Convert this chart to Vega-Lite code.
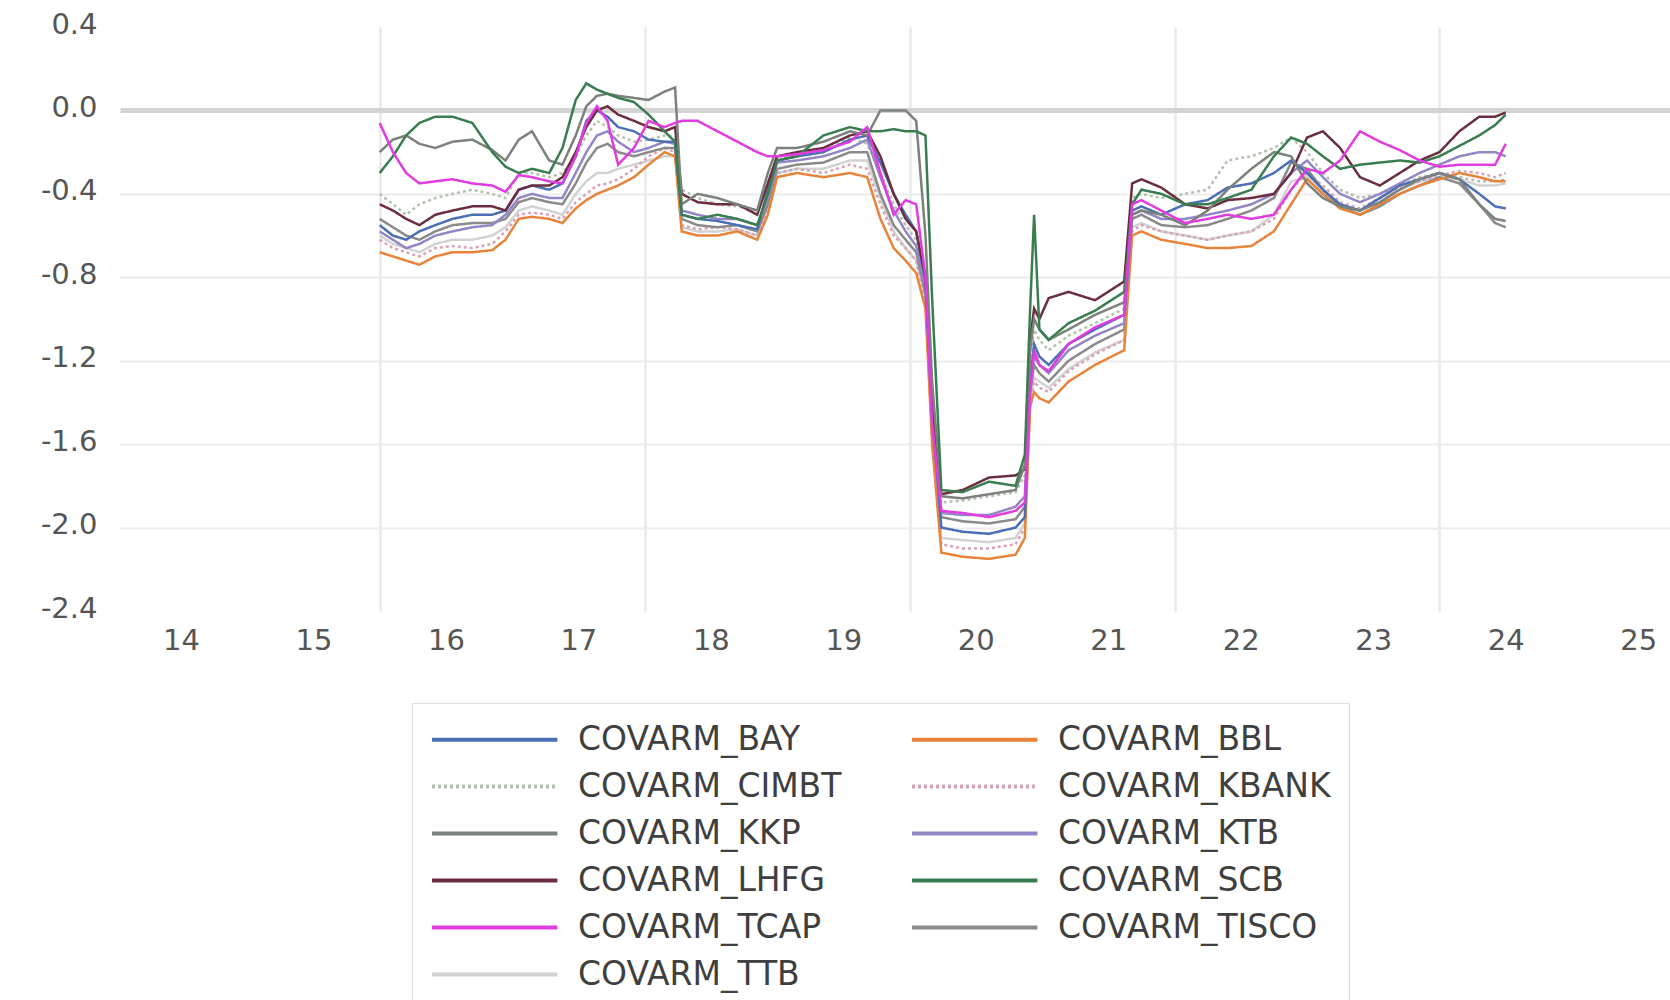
{
"$schema": "https://vega.github.io/schema/vega-lite/v6.json",
"width": 1550, "height": 584,
"autosize": {"type": "none"},
"padding": {"left": 120, "top": 27, "right": 0, "bottom": 389},
"background": "white",
"data": {"values": [
{"s":"TTB","x":2016,"y":-0.60},{"s":"TTB","x":2016.1,"y":-0.64},{"s":"TTB","x":2016.2,"y":-0.66},{"s":"TTB","x":2016.3,"y":-0.68},{"s":"TTB","x":2016.42,"y":-0.64},{"s":"TTB","x":2016.55,"y":-0.62},{"s":"TTB","x":2016.7,"y":-0.62},{"s":"TTB","x":2016.85,"y":-0.60},{"s":"TTB","x":2016.95,"y":-0.56},{"s":"TTB","x":2017.05,"y":-0.48},
{"s":"TTB","x":2017.15,"y":-0.46},{"s":"TTB","x":2017.28,"y":-0.48},{"s":"TTB","x":2017.38,"y":-0.50},{"s":"TTB","x":2017.48,"y":-0.40},{"s":"TTB","x":2017.56,"y":-0.34},{"s":"TTB","x":2017.64,"y":-0.30},{"s":"TTB","x":2017.72,"y":-0.30},{"s":"TTB","x":2017.8,"y":-0.28},{"s":"TTB","x":2017.92,"y":-0.26},{"s":"TTB","x":2018.03,"y":-0.24},
{"s":"TTB","x":2018.15,"y":-0.22},{"s":"TTB","x":2018.23,"y":-0.22},{"s":"TTB","x":2018.28,"y":-0.56},{"s":"TTB","x":2018.4,"y":-0.58},{"s":"TTB","x":2018.55,"y":-0.58},{"s":"TTB","x":2018.7,"y":-0.57},{"s":"TTB","x":2018.85,"y":-0.60},{"s":"TTB","x":2018.93,"y":-0.46},{"s":"TTB","x":2019,"y":-0.30},{"s":"TTB","x":2019.15,"y":-0.28},
{"s":"TTB","x":2019.35,"y":-0.28},{"s":"TTB","x":2019.55,"y":-0.24},{"s":"TTB","x":2019.68,"y":-0.24},{"s":"TTB","x":2019.78,"y":-0.42},{"s":"TTB","x":2019.88,"y":-0.58},{"s":"TTB","x":2019.97,"y":-0.66},{"s":"TTB","x":2020.05,"y":-0.72},{"s":"TTB","x":2020.12,"y":-0.90},{"s":"TTB","x":2020.17,"y":-1.55},{"s":"TTB","x":2020.24,"y":-2.05},
{"s":"TTB","x":2020.4,"y":-2.06},{"s":"TTB","x":2020.6,"y":-2.07},{"s":"TTB","x":2020.8,"y":-2.05},{"s":"TTB","x":2020.87,"y":-1.98},{"s":"TTB","x":2020.91,"y":-1.40},{"s":"TTB","x":2020.94,"y":-1.28},{"s":"TTB","x":2020.98,"y":-1.30},{"s":"TTB","x":2021.05,"y":-1.33},{"s":"TTB","x":2021.2,"y":-1.24},{"s":"TTB","x":2021.4,"y":-1.16},
{"s":"TTB","x":2021.62,"y":-1.10},{"s":"TTB","x":2021.68,"y":-0.56},{"s":"TTB","x":2021.75,"y":-0.54},{"s":"TTB","x":2021.9,"y":-0.58},{"s":"TTB","x":2022.08,"y":-0.60},{"s":"TTB","x":2022.25,"y":-0.62},{"s":"TTB","x":2022.4,"y":-0.60},{"s":"TTB","x":2022.58,"y":-0.58},{"s":"TTB","x":2022.75,"y":-0.50},{"s":"TTB","x":2022.88,"y":-0.34},
{"s":"TTB","x":2023,"y":-0.32},{"s":"TTB","x":2023.12,"y":-0.40},{"s":"TTB","x":2023.25,"y":-0.47},{"s":"TTB","x":2023.4,"y":-0.48},{"s":"TTB","x":2023.55,"y":-0.42},{"s":"TTB","x":2023.7,"y":-0.38},{"s":"TTB","x":2023.85,"y":-0.34},{"s":"TTB","x":2024,"y":-0.32},{"s":"TTB","x":2024.15,"y":-0.33},{"s":"TTB","x":2024.3,"y":-0.36},
{"s":"TTB","x":2024.42,"y":-0.36},{"s":"TTB","x":2024.5,"y":-0.35},

{"s":"CIMBT","x":2016,"y":-0.40},{"s":"CIMBT","x":2016.1,"y":-0.45},{"s":"CIMBT","x":2016.2,"y":-0.50},{"s":"CIMBT","x":2016.3,"y":-0.45},{"s":"CIMBT","x":2016.42,"y":-0.42},{"s":"CIMBT","x":2016.55,"y":-0.40},{"s":"CIMBT","x":2016.7,"y":-0.38},{"s":"CIMBT","x":2016.85,"y":-0.40},{"s":"CIMBT","x":2016.95,"y":-0.42},{"s":"CIMBT","x":2017.05,"y":-0.30},
{"s":"CIMBT","x":2017.15,"y":-0.30},{"s":"CIMBT","x":2017.28,"y":-0.32},{"s":"CIMBT","x":2017.38,"y":-0.30},{"s":"CIMBT","x":2017.48,"y":-0.22},{"s":"CIMBT","x":2017.56,"y":-0.12},{"s":"CIMBT","x":2017.64,"y":-0.05},{"s":"CIMBT","x":2017.72,"y":-0.08},{"s":"CIMBT","x":2017.8,"y":-0.12},{"s":"CIMBT","x":2017.92,"y":-0.15},{"s":"CIMBT","x":2018.03,"y":-0.14},
{"s":"CIMBT","x":2018.15,"y":-0.12},{"s":"CIMBT","x":2018.23,"y":-0.13},{"s":"CIMBT","x":2018.28,"y":-0.38},{"s":"CIMBT","x":2018.4,"y":-0.42},{"s":"CIMBT","x":2018.55,"y":-0.45},{"s":"CIMBT","x":2018.7,"y":-0.46},{"s":"CIMBT","x":2018.85,"y":-0.48},{"s":"CIMBT","x":2018.93,"y":-0.35},{"s":"CIMBT","x":2019,"y":-0.22},{"s":"CIMBT","x":2019.15,"y":-0.22},
{"s":"CIMBT","x":2019.35,"y":-0.20},{"s":"CIMBT","x":2019.55,"y":-0.13},{"s":"CIMBT","x":2019.68,"y":-0.16},{"s":"CIMBT","x":2019.78,"y":-0.30},{"s":"CIMBT","x":2019.88,"y":-0.45},{"s":"CIMBT","x":2019.97,"y":-0.55},{"s":"CIMBT","x":2020.05,"y":-0.62},{"s":"CIMBT","x":2020.12,"y":-0.85},{"s":"CIMBT","x":2020.17,"y":-1.40},{"s":"CIMBT","x":2020.24,"y":-1.88},
{"s":"CIMBT","x":2020.4,"y":-1.87},{"s":"CIMBT","x":2020.6,"y":-1.85},{"s":"CIMBT","x":2020.8,"y":-1.83},{"s":"CIMBT","x":2020.87,"y":-1.75},{"s":"CIMBT","x":2020.91,"y":-1.20},{"s":"CIMBT","x":2020.94,"y":-1.05},{"s":"CIMBT","x":2020.98,"y":-1.10},{"s":"CIMBT","x":2021.05,"y":-1.15},{"s":"CIMBT","x":2021.2,"y":-1.08},{"s":"CIMBT","x":2021.4,"y":-1.02},
{"s":"CIMBT","x":2021.62,"y":-0.95},{"s":"CIMBT","x":2021.68,"y":-0.42},{"s":"CIMBT","x":2021.75,"y":-0.40},{"s":"CIMBT","x":2021.9,"y":-0.42},{"s":"CIMBT","x":2022.08,"y":-0.40},{"s":"CIMBT","x":2022.25,"y":-0.38},{"s":"CIMBT","x":2022.4,"y":-0.24},{"s":"CIMBT","x":2022.58,"y":-0.22},{"s":"CIMBT","x":2022.75,"y":-0.18},{"s":"CIMBT","x":2022.88,"y":-0.13},
{"s":"CIMBT","x":2023,"y":-0.20},{"s":"CIMBT","x":2023.12,"y":-0.30},{"s":"CIMBT","x":2023.25,"y":-0.38},{"s":"CIMBT","x":2023.4,"y":-0.42},{"s":"CIMBT","x":2023.55,"y":-0.40},{"s":"CIMBT","x":2023.7,"y":-0.36},{"s":"CIMBT","x":2023.85,"y":-0.32},{"s":"CIMBT","x":2024,"y":-0.30},{"s":"CIMBT","x":2024.15,"y":-0.32},{"s":"CIMBT","x":2024.3,"y":-0.34},
{"s":"CIMBT","x":2024.42,"y":-0.34},{"s":"CIMBT","x":2024.5,"y":-0.33},

{"s":"KBANK","x":2016,"y":-0.62},{"s":"KBANK","x":2016.1,"y":-0.66},{"s":"KBANK","x":2016.2,"y":-0.68},{"s":"KBANK","x":2016.3,"y":-0.70},{"s":"KBANK","x":2016.42,"y":-0.66},{"s":"KBANK","x":2016.55,"y":-0.65},{"s":"KBANK","x":2016.7,"y":-0.66},{"s":"KBANK","x":2016.85,"y":-0.64},{"s":"KBANK","x":2016.95,"y":-0.58},{"s":"KBANK","x":2017.05,"y":-0.50},
{"s":"KBANK","x":2017.15,"y":-0.49},{"s":"KBANK","x":2017.28,"y":-0.50},{"s":"KBANK","x":2017.38,"y":-0.52},{"s":"KBANK","x":2017.48,"y":-0.44},{"s":"KBANK","x":2017.56,"y":-0.40},{"s":"KBANK","x":2017.64,"y":-0.36},{"s":"KBANK","x":2017.72,"y":-0.35},{"s":"KBANK","x":2017.8,"y":-0.33},{"s":"KBANK","x":2017.92,"y":-0.28},{"s":"KBANK","x":2018.03,"y":-0.22},
{"s":"KBANK","x":2018.15,"y":-0.18},{"s":"KBANK","x":2018.23,"y":-0.20},{"s":"KBANK","x":2018.28,"y":-0.55},{"s":"KBANK","x":2018.4,"y":-0.57},{"s":"KBANK","x":2018.55,"y":-0.56},{"s":"KBANK","x":2018.7,"y":-0.57},{"s":"KBANK","x":2018.85,"y":-0.60},{"s":"KBANK","x":2018.93,"y":-0.48},{"s":"KBANK","x":2019,"y":-0.30},{"s":"KBANK","x":2019.15,"y":-0.28},
{"s":"KBANK","x":2019.35,"y":-0.30},{"s":"KBANK","x":2019.55,"y":-0.26},{"s":"KBANK","x":2019.68,"y":-0.28},{"s":"KBANK","x":2019.78,"y":-0.45},{"s":"KBANK","x":2019.88,"y":-0.60},{"s":"KBANK","x":2019.97,"y":-0.66},{"s":"KBANK","x":2020.05,"y":-0.72},{"s":"KBANK","x":2020.12,"y":-0.92},{"s":"KBANK","x":2020.17,"y":-1.55},{"s":"KBANK","x":2020.24,"y":-2.08},
{"s":"KBANK","x":2020.4,"y":-2.10},{"s":"KBANK","x":2020.6,"y":-2.10},{"s":"KBANK","x":2020.8,"y":-2.08},{"s":"KBANK","x":2020.87,"y":-2.00},{"s":"KBANK","x":2020.91,"y":-1.38},{"s":"KBANK","x":2020.94,"y":-1.30},{"s":"KBANK","x":2020.98,"y":-1.33},{"s":"KBANK","x":2021.05,"y":-1.35},{"s":"KBANK","x":2021.2,"y":-1.25},{"s":"KBANK","x":2021.4,"y":-1.17},
{"s":"KBANK","x":2021.62,"y":-1.10},{"s":"KBANK","x":2021.68,"y":-0.58},{"s":"KBANK","x":2021.75,"y":-0.55},{"s":"KBANK","x":2021.9,"y":-0.58},{"s":"KBANK","x":2022.08,"y":-0.60},{"s":"KBANK","x":2022.25,"y":-0.62},{"s":"KBANK","x":2022.4,"y":-0.60},{"s":"KBANK","x":2022.58,"y":-0.58},{"s":"KBANK","x":2022.75,"y":-0.52},{"s":"KBANK","x":2022.88,"y":-0.38},
{"s":"KBANK","x":2023,"y":-0.30},{"s":"KBANK","x":2023.12,"y":-0.36},{"s":"KBANK","x":2023.25,"y":-0.44},{"s":"KBANK","x":2023.4,"y":-0.47},{"s":"KBANK","x":2023.55,"y":-0.42},{"s":"KBANK","x":2023.7,"y":-0.37},{"s":"KBANK","x":2023.85,"y":-0.34},{"s":"KBANK","x":2024,"y":-0.31},{"s":"KBANK","x":2024.15,"y":-0.29},{"s":"KBANK","x":2024.3,"y":-0.30},
{"s":"KBANK","x":2024.42,"y":-0.32},{"s":"KBANK","x":2024.5,"y":-0.30},

{"s":"TISCO","x":2016,"y":-0.52},{"s":"TISCO","x":2016.1,"y":-0.56},{"s":"TISCO","x":2016.2,"y":-0.60},{"s":"TISCO","x":2016.3,"y":-0.62},{"s":"TISCO","x":2016.42,"y":-0.58},{"s":"TISCO","x":2016.55,"y":-0.55},{"s":"TISCO","x":2016.7,"y":-0.54},{"s":"TISCO","x":2016.85,"y":-0.54},{"s":"TISCO","x":2016.95,"y":-0.52},{"s":"TISCO","x":2017.05,"y":-0.44},
{"s":"TISCO","x":2017.15,"y":-0.42},{"s":"TISCO","x":2017.28,"y":-0.44},{"s":"TISCO","x":2017.38,"y":-0.45},{"s":"TISCO","x":2017.48,"y":-0.35},{"s":"TISCO","x":2017.56,"y":-0.25},{"s":"TISCO","x":2017.64,"y":-0.18},{"s":"TISCO","x":2017.72,"y":-0.16},{"s":"TISCO","x":2017.8,"y":-0.20},{"s":"TISCO","x":2017.92,"y":-0.22},{"s":"TISCO","x":2018.03,"y":-0.20},
{"s":"TISCO","x":2018.15,"y":-0.18},{"s":"TISCO","x":2018.23,"y":-0.18},{"s":"TISCO","x":2018.28,"y":-0.52},{"s":"TISCO","x":2018.4,"y":-0.55},{"s":"TISCO","x":2018.55,"y":-0.56},{"s":"TISCO","x":2018.7,"y":-0.55},{"s":"TISCO","x":2018.85,"y":-0.58},{"s":"TISCO","x":2018.93,"y":-0.45},{"s":"TISCO","x":2019,"y":-0.28},{"s":"TISCO","x":2019.15,"y":-0.26},
{"s":"TISCO","x":2019.35,"y":-0.25},{"s":"TISCO","x":2019.55,"y":-0.20},{"s":"TISCO","x":2019.68,"y":-0.20},{"s":"TISCO","x":2019.78,"y":-0.40},{"s":"TISCO","x":2019.88,"y":-0.55},{"s":"TISCO","x":2019.97,"y":-0.62},{"s":"TISCO","x":2020.05,"y":-0.68},{"s":"TISCO","x":2020.12,"y":-0.88},{"s":"TISCO","x":2020.17,"y":-1.48},{"s":"TISCO","x":2020.24,"y":-1.95},
{"s":"TISCO","x":2020.4,"y":-1.97},{"s":"TISCO","x":2020.6,"y":-1.98},{"s":"TISCO","x":2020.8,"y":-1.96},{"s":"TISCO","x":2020.87,"y":-1.90},{"s":"TISCO","x":2020.91,"y":-1.35},{"s":"TISCO","x":2020.94,"y":-1.22},{"s":"TISCO","x":2020.98,"y":-1.26},{"s":"TISCO","x":2021.05,"y":-1.30},{"s":"TISCO","x":2021.2,"y":-1.20},{"s":"TISCO","x":2021.4,"y":-1.12},
{"s":"TISCO","x":2021.62,"y":-1.05},{"s":"TISCO","x":2021.68,"y":-0.52},{"s":"TISCO","x":2021.75,"y":-0.50},{"s":"TISCO","x":2021.9,"y":-0.55},{"s":"TISCO","x":2022.08,"y":-0.56},{"s":"TISCO","x":2022.25,"y":-0.55},{"s":"TISCO","x":2022.4,"y":-0.52},{"s":"TISCO","x":2022.58,"y":-0.48},{"s":"TISCO","x":2022.75,"y":-0.42},{"s":"TISCO","x":2022.88,"y":-0.25},
{"s":"TISCO","x":2023,"y":-0.28},{"s":"TISCO","x":2023.12,"y":-0.38},{"s":"TISCO","x":2023.25,"y":-0.46},{"s":"TISCO","x":2023.4,"y":-0.50},{"s":"TISCO","x":2023.55,"y":-0.46},{"s":"TISCO","x":2023.7,"y":-0.40},{"s":"TISCO","x":2023.85,"y":-0.36},{"s":"TISCO","x":2024,"y":-0.32},{"s":"TISCO","x":2024.15,"y":-0.35},{"s":"TISCO","x":2024.3,"y":-0.45},
{"s":"TISCO","x":2024.42,"y":-0.54},{"s":"TISCO","x":2024.5,"y":-0.56},

{"s":"BBL","x":2016,"y":-0.68},{"s":"BBL","x":2016.1,"y":-0.70},{"s":"BBL","x":2016.2,"y":-0.72},{"s":"BBL","x":2016.3,"y":-0.74},{"s":"BBL","x":2016.42,"y":-0.70},{"s":"BBL","x":2016.55,"y":-0.68},{"s":"BBL","x":2016.7,"y":-0.68},{"s":"BBL","x":2016.85,"y":-0.67},{"s":"BBL","x":2016.95,"y":-0.62},{"s":"BBL","x":2017.05,"y":-0.52},
{"s":"BBL","x":2017.15,"y":-0.51},{"s":"BBL","x":2017.28,"y":-0.52},{"s":"BBL","x":2017.38,"y":-0.54},{"s":"BBL","x":2017.48,"y":-0.47},{"s":"BBL","x":2017.56,"y":-0.43},{"s":"BBL","x":2017.64,"y":-0.40},{"s":"BBL","x":2017.72,"y":-0.38},{"s":"BBL","x":2017.8,"y":-0.36},{"s":"BBL","x":2017.92,"y":-0.32},{"s":"BBL","x":2018.03,"y":-0.26},
{"s":"BBL","x":2018.15,"y":-0.20},{"s":"BBL","x":2018.23,"y":-0.22},{"s":"BBL","x":2018.28,"y":-0.58},{"s":"BBL","x":2018.4,"y":-0.60},{"s":"BBL","x":2018.55,"y":-0.60},{"s":"BBL","x":2018.7,"y":-0.58},{"s":"BBL","x":2018.85,"y":-0.62},{"s":"BBL","x":2018.93,"y":-0.50},{"s":"BBL","x":2019,"y":-0.32},{"s":"BBL","x":2019.15,"y":-0.30},
{"s":"BBL","x":2019.35,"y":-0.32},{"s":"BBL","x":2019.55,"y":-0.30},{"s":"BBL","x":2019.68,"y":-0.32},{"s":"BBL","x":2019.78,"y":-0.52},{"s":"BBL","x":2019.88,"y":-0.66},{"s":"BBL","x":2019.97,"y":-0.72},{"s":"BBL","x":2020.05,"y":-0.78},{"s":"BBL","x":2020.12,"y":-0.95},{"s":"BBL","x":2020.17,"y":-1.60},{"s":"BBL","x":2020.24,"y":-2.12},
{"s":"BBL","x":2020.4,"y":-2.14},{"s":"BBL","x":2020.6,"y":-2.15},{"s":"BBL","x":2020.8,"y":-2.13},{"s":"BBL","x":2020.87,"y":-2.05},{"s":"BBL","x":2020.91,"y":-1.42},{"s":"BBL","x":2020.94,"y":-1.35},{"s":"BBL","x":2020.98,"y":-1.38},{"s":"BBL","x":2021.05,"y":-1.40},{"s":"BBL","x":2021.2,"y":-1.30},{"s":"BBL","x":2021.4,"y":-1.22},
{"s":"BBL","x":2021.62,"y":-1.15},{"s":"BBL","x":2021.68,"y":-0.60},{"s":"BBL","x":2021.75,"y":-0.58},{"s":"BBL","x":2021.9,"y":-0.62},{"s":"BBL","x":2022.08,"y":-0.64},{"s":"BBL","x":2022.25,"y":-0.66},{"s":"BBL","x":2022.4,"y":-0.66},{"s":"BBL","x":2022.58,"y":-0.65},{"s":"BBL","x":2022.75,"y":-0.58},{"s":"BBL","x":2022.88,"y":-0.45},
{"s":"BBL","x":2023,"y":-0.33},{"s":"BBL","x":2023.12,"y":-0.40},{"s":"BBL","x":2023.25,"y":-0.47},{"s":"BBL","x":2023.4,"y":-0.50},{"s":"BBL","x":2023.55,"y":-0.45},{"s":"BBL","x":2023.7,"y":-0.40},{"s":"BBL","x":2023.85,"y":-0.36},{"s":"BBL","x":2024,"y":-0.33},{"s":"BBL","x":2024.15,"y":-0.30},{"s":"BBL","x":2024.3,"y":-0.32},
{"s":"BBL","x":2024.42,"y":-0.34},{"s":"BBL","x":2024.5,"y":-0.34},

{"s":"KTB","x":2016,"y":-0.58},{"s":"KTB","x":2016.1,"y":-0.62},{"s":"KTB","x":2016.2,"y":-0.66},{"s":"KTB","x":2016.3,"y":-0.64},{"s":"KTB","x":2016.42,"y":-0.60},{"s":"KTB","x":2016.55,"y":-0.58},{"s":"KTB","x":2016.7,"y":-0.56},{"s":"KTB","x":2016.85,"y":-0.55},{"s":"KTB","x":2016.95,"y":-0.50},{"s":"KTB","x":2017.05,"y":-0.42},
{"s":"KTB","x":2017.15,"y":-0.40},{"s":"KTB","x":2017.28,"y":-0.42},{"s":"KTB","x":2017.38,"y":-0.42},{"s":"KTB","x":2017.48,"y":-0.30},{"s":"KTB","x":2017.56,"y":-0.20},{"s":"KTB","x":2017.64,"y":-0.12},{"s":"KTB","x":2017.72,"y":-0.10},{"s":"KTB","x":2017.8,"y":-0.15},{"s":"KTB","x":2017.92,"y":-0.20},{"s":"KTB","x":2018.03,"y":-0.18},
{"s":"KTB","x":2018.15,"y":-0.15},{"s":"KTB","x":2018.23,"y":-0.16},{"s":"KTB","x":2018.28,"y":-0.48},{"s":"KTB","x":2018.4,"y":-0.50},{"s":"KTB","x":2018.55,"y":-0.52},{"s":"KTB","x":2018.7,"y":-0.52},{"s":"KTB","x":2018.85,"y":-0.55},{"s":"KTB","x":2018.93,"y":-0.42},{"s":"KTB","x":2019,"y":-0.25},{"s":"KTB","x":2019.15,"y":-0.24},
{"s":"KTB","x":2019.35,"y":-0.22},{"s":"KTB","x":2019.55,"y":-0.18},{"s":"KTB","x":2019.68,"y":-0.14},{"s":"KTB","x":2019.78,"y":-0.32},{"s":"KTB","x":2019.88,"y":-0.48},{"s":"KTB","x":2019.97,"y":-0.58},{"s":"KTB","x":2020.05,"y":-0.65},{"s":"KTB","x":2020.12,"y":-0.85},{"s":"KTB","x":2020.17,"y":-1.50},{"s":"KTB","x":2020.24,"y":-1.93},
{"s":"KTB","x":2020.4,"y":-1.94},{"s":"KTB","x":2020.6,"y":-1.94},{"s":"KTB","x":2020.8,"y":-1.90},{"s":"KTB","x":2020.87,"y":-1.85},{"s":"KTB","x":2020.91,"y":-1.32},{"s":"KTB","x":2020.94,"y":-1.18},{"s":"KTB","x":2020.98,"y":-1.22},{"s":"KTB","x":2021.05,"y":-1.26},{"s":"KTB","x":2021.2,"y":-1.15},{"s":"KTB","x":2021.4,"y":-1.08},
{"s":"KTB","x":2021.62,"y":-1.02},{"s":"KTB","x":2021.68,"y":-0.50},{"s":"KTB","x":2021.75,"y":-0.48},{"s":"KTB","x":2021.9,"y":-0.52},{"s":"KTB","x":2022.08,"y":-0.52},{"s":"KTB","x":2022.25,"y":-0.50},{"s":"KTB","x":2022.4,"y":-0.48},{"s":"KTB","x":2022.58,"y":-0.45},{"s":"KTB","x":2022.75,"y":-0.40},{"s":"KTB","x":2022.88,"y":-0.30},
{"s":"KTB","x":2023,"y":-0.24},{"s":"KTB","x":2023.12,"y":-0.32},{"s":"KTB","x":2023.25,"y":-0.40},{"s":"KTB","x":2023.4,"y":-0.44},{"s":"KTB","x":2023.55,"y":-0.40},{"s":"KTB","x":2023.7,"y":-0.35},{"s":"KTB","x":2023.85,"y":-0.30},{"s":"KTB","x":2024,"y":-0.26},{"s":"KTB","x":2024.15,"y":-0.22},{"s":"KTB","x":2024.3,"y":-0.20},
{"s":"KTB","x":2024.42,"y":-0.20},{"s":"KTB","x":2024.5,"y":-0.22},

{"s":"BAY","x":2016,"y":-0.55},{"s":"BAY","x":2016.1,"y":-0.60},{"s":"BAY","x":2016.2,"y":-0.62},{"s":"BAY","x":2016.3,"y":-0.58},{"s":"BAY","x":2016.42,"y":-0.55},{"s":"BAY","x":2016.55,"y":-0.52},{"s":"BAY","x":2016.7,"y":-0.50},{"s":"BAY","x":2016.85,"y":-0.50},{"s":"BAY","x":2016.95,"y":-0.48},{"s":"BAY","x":2017.05,"y":-0.38},
{"s":"BAY","x":2017.15,"y":-0.36},{"s":"BAY","x":2017.28,"y":-0.38},{"s":"BAY","x":2017.38,"y":-0.35},{"s":"BAY","x":2017.48,"y":-0.22},{"s":"BAY","x":2017.56,"y":-0.05},{"s":"BAY","x":2017.64,"y":0.00},{"s":"BAY","x":2017.72,"y":-0.03},{"s":"BAY","x":2017.8,"y":-0.08},{"s":"BAY","x":2017.92,"y":-0.10},{"s":"BAY","x":2018.03,"y":-0.14},
{"s":"BAY","x":2018.15,"y":-0.15},{"s":"BAY","x":2018.23,"y":-0.15},{"s":"BAY","x":2018.28,"y":-0.50},{"s":"BAY","x":2018.4,"y":-0.52},{"s":"BAY","x":2018.55,"y":-0.53},{"s":"BAY","x":2018.7,"y":-0.55},{"s":"BAY","x":2018.85,"y":-0.57},{"s":"BAY","x":2018.93,"y":-0.38},{"s":"BAY","x":2019,"y":-0.24},{"s":"BAY","x":2019.15,"y":-0.22},
{"s":"BAY","x":2019.35,"y":-0.20},{"s":"BAY","x":2019.55,"y":-0.14},{"s":"BAY","x":2019.68,"y":-0.12},{"s":"BAY","x":2019.78,"y":-0.25},{"s":"BAY","x":2019.88,"y":-0.40},{"s":"BAY","x":2019.97,"y":-0.50},{"s":"BAY","x":2020.05,"y":-0.58},{"s":"BAY","x":2020.12,"y":-0.82},{"s":"BAY","x":2020.17,"y":-1.45},{"s":"BAY","x":2020.24,"y":-2.00},
{"s":"BAY","x":2020.4,"y":-2.02},{"s":"BAY","x":2020.6,"y":-2.03},{"s":"BAY","x":2020.8,"y":-2.00},{"s":"BAY","x":2020.87,"y":-1.95},{"s":"BAY","x":2020.91,"y":-1.30},{"s":"BAY","x":2020.94,"y":-1.12},{"s":"BAY","x":2020.98,"y":-1.18},{"s":"BAY","x":2021.05,"y":-1.22},{"s":"BAY","x":2021.2,"y":-1.12},{"s":"BAY","x":2021.4,"y":-1.05},
{"s":"BAY","x":2021.62,"y":-0.98},{"s":"BAY","x":2021.68,"y":-0.48},{"s":"BAY","x":2021.75,"y":-0.46},{"s":"BAY","x":2021.9,"y":-0.50},{"s":"BAY","x":2022.08,"y":-0.45},{"s":"BAY","x":2022.25,"y":-0.43},{"s":"BAY","x":2022.4,"y":-0.37},{"s":"BAY","x":2022.58,"y":-0.35},{"s":"BAY","x":2022.75,"y":-0.30},{"s":"BAY","x":2022.88,"y":-0.24},
{"s":"BAY","x":2023,"y":-0.30},{"s":"BAY","x":2023.12,"y":-0.38},{"s":"BAY","x":2023.25,"y":-0.45},{"s":"BAY","x":2023.4,"y":-0.48},{"s":"BAY","x":2023.55,"y":-0.42},{"s":"BAY","x":2023.7,"y":-0.36},{"s":"BAY","x":2023.85,"y":-0.33},{"s":"BAY","x":2024,"y":-0.30},{"s":"BAY","x":2024.15,"y":-0.33},{"s":"BAY","x":2024.3,"y":-0.40},
{"s":"BAY","x":2024.42,"y":-0.46},{"s":"BAY","x":2024.5,"y":-0.47},

{"s":"LHFG","x":2016,"y":-0.45},{"s":"LHFG","x":2016.1,"y":-0.48},{"s":"LHFG","x":2016.2,"y":-0.52},{"s":"LHFG","x":2016.3,"y":-0.55},{"s":"LHFG","x":2016.42,"y":-0.50},{"s":"LHFG","x":2016.55,"y":-0.48},{"s":"LHFG","x":2016.7,"y":-0.46},{"s":"LHFG","x":2016.85,"y":-0.46},{"s":"LHFG","x":2016.95,"y":-0.48},{"s":"LHFG","x":2017.05,"y":-0.38},
{"s":"LHFG","x":2017.15,"y":-0.36},{"s":"LHFG","x":2017.28,"y":-0.36},{"s":"LHFG","x":2017.38,"y":-0.32},{"s":"LHFG","x":2017.48,"y":-0.20},{"s":"LHFG","x":2017.56,"y":-0.08},{"s":"LHFG","x":2017.64,"y":0.00},{"s":"LHFG","x":2017.72,"y":0.02},{"s":"LHFG","x":2017.8,"y":-0.02},{"s":"LHFG","x":2017.92,"y":-0.05},{"s":"LHFG","x":2018.03,"y":-0.08},
{"s":"LHFG","x":2018.15,"y":-0.10},{"s":"LHFG","x":2018.23,"y":-0.08},{"s":"LHFG","x":2018.28,"y":-0.40},{"s":"LHFG","x":2018.4,"y":-0.44},{"s":"LHFG","x":2018.55,"y":-0.45},{"s":"LHFG","x":2018.7,"y":-0.45},{"s":"LHFG","x":2018.85,"y":-0.50},{"s":"LHFG","x":2018.93,"y":-0.35},{"s":"LHFG","x":2019,"y":-0.22},{"s":"LHFG","x":2019.15,"y":-0.20},
{"s":"LHFG","x":2019.35,"y":-0.18},{"s":"LHFG","x":2019.55,"y":-0.12},{"s":"LHFG","x":2019.68,"y":-0.10},{"s":"LHFG","x":2019.78,"y":-0.22},{"s":"LHFG","x":2019.88,"y":-0.40},{"s":"LHFG","x":2019.97,"y":-0.52},{"s":"LHFG","x":2020.05,"y":-0.58},{"s":"LHFG","x":2020.12,"y":-0.80},{"s":"LHFG","x":2020.17,"y":-1.40},{"s":"LHFG","x":2020.24,"y":-1.84},
{"s":"LHFG","x":2020.4,"y":-1.82},{"s":"LHFG","x":2020.6,"y":-1.76},{"s":"LHFG","x":2020.8,"y":-1.75},{"s":"LHFG","x":2020.87,"y":-1.72},{"s":"LHFG","x":2020.91,"y":-1.10},{"s":"LHFG","x":2020.94,"y":-0.95},{"s":"LHFG","x":2020.98,"y":-1.00},{"s":"LHFG","x":2021.05,"y":-0.90},{"s":"LHFG","x":2021.2,"y":-0.87},{"s":"LHFG","x":2021.4,"y":-0.91},
{"s":"LHFG","x":2021.62,"y":-0.82},{"s":"LHFG","x":2021.68,"y":-0.35},{"s":"LHFG","x":2021.75,"y":-0.33},{"s":"LHFG","x":2021.9,"y":-0.37},{"s":"LHFG","x":2022.08,"y":-0.45},{"s":"LHFG","x":2022.25,"y":-0.47},{"s":"LHFG","x":2022.4,"y":-0.43},{"s":"LHFG","x":2022.58,"y":-0.42},{"s":"LHFG","x":2022.75,"y":-0.40},{"s":"LHFG","x":2022.88,"y":-0.30},
{"s":"LHFG","x":2023,"y":-0.13},{"s":"LHFG","x":2023.12,"y":-0.10},{"s":"LHFG","x":2023.25,"y":-0.18},{"s":"LHFG","x":2023.4,"y":-0.32},{"s":"LHFG","x":2023.55,"y":-0.36},{"s":"LHFG","x":2023.7,"y":-0.30},{"s":"LHFG","x":2023.85,"y":-0.24},{"s":"LHFG","x":2024,"y":-0.20},{"s":"LHFG","x":2024.15,"y":-0.10},{"s":"LHFG","x":2024.3,"y":-0.03},
{"s":"LHFG","x":2024.42,"y":-0.03},{"s":"LHFG","x":2024.5,"y":-0.01},

{"s":"KKP","x":2016,"y":-0.20},{"s":"KKP","x":2016.1,"y":-0.14},{"s":"KKP","x":2016.2,"y":-0.12},{"s":"KKP","x":2016.3,"y":-0.16},{"s":"KKP","x":2016.42,"y":-0.18},{"s":"KKP","x":2016.55,"y":-0.15},{"s":"KKP","x":2016.7,"y":-0.14},{"s":"KKP","x":2016.85,"y":-0.19},{"s":"KKP","x":2016.95,"y":-0.24},{"s":"KKP","x":2017.05,"y":-0.14},
{"s":"KKP","x":2017.15,"y":-0.10},{"s":"KKP","x":2017.28,"y":-0.24},{"s":"KKP","x":2017.38,"y":-0.26},{"s":"KKP","x":2017.48,"y":-0.12},{"s":"KKP","x":2017.56,"y":0.02},{"s":"KKP","x":2017.64,"y":0.07},{"s":"KKP","x":2017.72,"y":0.08},{"s":"KKP","x":2017.8,"y":0.07},{"s":"KKP","x":2017.92,"y":0.06},{"s":"KKP","x":2018.03,"y":0.05},
{"s":"KKP","x":2018.15,"y":0.09},{"s":"KKP","x":2018.23,"y":0.11},{"s":"KKP","x":2018.28,"y":-0.45},{"s":"KKP","x":2018.4,"y":-0.40},{"s":"KKP","x":2018.55,"y":-0.42},{"s":"KKP","x":2018.7,"y":-0.45},{"s":"KKP","x":2018.85,"y":-0.48},{"s":"KKP","x":2018.93,"y":-0.30},{"s":"KKP","x":2019,"y":-0.18},{"s":"KKP","x":2019.15,"y":-0.18},
{"s":"KKP","x":2019.35,"y":-0.15},{"s":"KKP","x":2019.55,"y":-0.10},{"s":"KKP","x":2019.68,"y":-0.12},{"s":"KKP","x":2019.78,"y":0.00},{"s":"KKP","x":2019.88,"y":0.00},{"s":"KKP","x":2019.97,"y":0.00},{"s":"KKP","x":2020.05,"y":-0.05},{"s":"KKP","x":2020.12,"y":-0.60},{"s":"KKP","x":2020.17,"y":-1.30},{"s":"KKP","x":2020.24,"y":-1.85},
{"s":"KKP","x":2020.4,"y":-1.86},{"s":"KKP","x":2020.6,"y":-1.84},{"s":"KKP","x":2020.8,"y":-1.82},{"s":"KKP","x":2020.87,"y":-1.70},{"s":"KKP","x":2020.91,"y":-1.15},{"s":"KKP","x":2020.94,"y":-1.00},{"s":"KKP","x":2020.98,"y":-1.05},{"s":"KKP","x":2021.05,"y":-1.10},{"s":"KKP","x":2021.2,"y":-1.05},{"s":"KKP","x":2021.4,"y":-0.98},
{"s":"KKP","x":2021.62,"y":-0.92},{"s":"KKP","x":2021.68,"y":-0.50},{"s":"KKP","x":2021.75,"y":-0.48},{"s":"KKP","x":2021.9,"y":-0.50},{"s":"KKP","x":2022.08,"y":-0.55},{"s":"KKP","x":2022.25,"y":-0.48},{"s":"KKP","x":2022.4,"y":-0.38},{"s":"KKP","x":2022.58,"y":-0.28},{"s":"KKP","x":2022.75,"y":-0.20},{"s":"KKP","x":2022.88,"y":-0.22},
{"s":"KKP","x":2023,"y":-0.35},{"s":"KKP","x":2023.12,"y":-0.42},{"s":"KKP","x":2023.25,"y":-0.46},{"s":"KKP","x":2023.4,"y":-0.48},{"s":"KKP","x":2023.55,"y":-0.44},{"s":"KKP","x":2023.7,"y":-0.38},{"s":"KKP","x":2023.85,"y":-0.33},{"s":"KKP","x":2024,"y":-0.30},{"s":"KKP","x":2024.15,"y":-0.33},{"s":"KKP","x":2024.3,"y":-0.45},
{"s":"KKP","x":2024.42,"y":-0.52},{"s":"KKP","x":2024.5,"y":-0.53},

{"s":"SCB","x":2016,"y":-0.30},{"s":"SCB","x":2016.1,"y":-0.22},{"s":"SCB","x":2016.2,"y":-0.12},{"s":"SCB","x":2016.3,"y":-0.06},{"s":"SCB","x":2016.42,"y":-0.03},{"s":"SCB","x":2016.55,"y":-0.03},{"s":"SCB","x":2016.7,"y":-0.06},{"s":"SCB","x":2016.85,"y":-0.20},{"s":"SCB","x":2016.95,"y":-0.27},{"s":"SCB","x":2017.05,"y":-0.30},
{"s":"SCB","x":2017.15,"y":-0.28},{"s":"SCB","x":2017.28,"y":-0.30},{"s":"SCB","x":2017.38,"y":-0.18},{"s":"SCB","x":2017.48,"y":0.05},{"s":"SCB","x":2017.56,"y":0.13},{"s":"SCB","x":2017.64,"y":0.10},{"s":"SCB","x":2017.72,"y":0.08},{"s":"SCB","x":2017.8,"y":0.06},{"s":"SCB","x":2017.92,"y":0.04},{"s":"SCB","x":2018.03,"y":-0.02},
{"s":"SCB","x":2018.15,"y":-0.10},{"s":"SCB","x":2018.23,"y":-0.15},{"s":"SCB","x":2018.28,"y":-0.50},{"s":"SCB","x":2018.4,"y":-0.52},{"s":"SCB","x":2018.55,"y":-0.50},{"s":"SCB","x":2018.7,"y":-0.52},{"s":"SCB","x":2018.85,"y":-0.55},{"s":"SCB","x":2018.93,"y":-0.40},{"s":"SCB","x":2019,"y":-0.24},{"s":"SCB","x":2019.15,"y":-0.22},
{"s":"SCB","x":2019.35,"y":-0.12},{"s":"SCB","x":2019.55,"y":-0.08},{"s":"SCB","x":2019.68,"y":-0.10},{"s":"SCB","x":2019.78,"y":-0.10},{"s":"SCB","x":2019.88,"y":-0.09},{"s":"SCB","x":2019.97,"y":-0.10},{"s":"SCB","x":2020.05,"y":-0.10},{"s":"SCB","x":2020.12,"y":-0.12},{"s":"SCB","x":2020.17,"y":-0.90},{"s":"SCB","x":2020.24,"y":-1.82},
{"s":"SCB","x":2020.4,"y":-1.83},{"s":"SCB","x":2020.6,"y":-1.78},{"s":"SCB","x":2020.8,"y":-1.80},{"s":"SCB","x":2020.87,"y":-1.65},{"s":"SCB","x":2020.91,"y":-0.95},{"s":"SCB","x":2020.94,"y":-0.50},{"s":"SCB","x":2020.98,"y":-1.05},{"s":"SCB","x":2021.05,"y":-1.10},{"s":"SCB","x":2021.2,"y":-1.02},{"s":"SCB","x":2021.4,"y":-0.96},
{"s":"SCB","x":2021.62,"y":-0.87},{"s":"SCB","x":2021.68,"y":-0.45},{"s":"SCB","x":2021.75,"y":-0.38},{"s":"SCB","x":2021.9,"y":-0.40},{"s":"SCB","x":2022.08,"y":-0.45},{"s":"SCB","x":2022.25,"y":-0.45},{"s":"SCB","x":2022.4,"y":-0.42},{"s":"SCB","x":2022.58,"y":-0.38},{"s":"SCB","x":2022.75,"y":-0.22},{"s":"SCB","x":2022.88,"y":-0.13},
{"s":"SCB","x":2023,"y":-0.16},{"s":"SCB","x":2023.12,"y":-0.22},{"s":"SCB","x":2023.25,"y":-0.28},{"s":"SCB","x":2023.4,"y":-0.26},{"s":"SCB","x":2023.55,"y":-0.25},{"s":"SCB","x":2023.7,"y":-0.24},{"s":"SCB","x":2023.85,"y":-0.25},{"s":"SCB","x":2024,"y":-0.22},{"s":"SCB","x":2024.15,"y":-0.17},{"s":"SCB","x":2024.3,"y":-0.12},
{"s":"SCB","x":2024.42,"y":-0.07},{"s":"SCB","x":2024.5,"y":-0.02},

{"s":"TCAP","x":2016,"y":-0.06},{"s":"TCAP","x":2016.1,"y":-0.20},{"s":"TCAP","x":2016.2,"y":-0.30},{"s":"TCAP","x":2016.3,"y":-0.35},{"s":"TCAP","x":2016.42,"y":-0.34},{"s":"TCAP","x":2016.55,"y":-0.33},{"s":"TCAP","x":2016.7,"y":-0.35},{"s":"TCAP","x":2016.85,"y":-0.36},{"s":"TCAP","x":2016.95,"y":-0.39},{"s":"TCAP","x":2017.05,"y":-0.31},
{"s":"TCAP","x":2017.15,"y":-0.32},{"s":"TCAP","x":2017.28,"y":-0.34},{"s":"TCAP","x":2017.38,"y":-0.35},{"s":"TCAP","x":2017.48,"y":-0.22},{"s":"TCAP","x":2017.56,"y":-0.06},{"s":"TCAP","x":2017.64,"y":0.02},{"s":"TCAP","x":2017.72,"y":-0.05},{"s":"TCAP","x":2017.8,"y":-0.26},{"s":"TCAP","x":2017.92,"y":-0.18},{"s":"TCAP","x":2018.03,"y":-0.05},
{"s":"TCAP","x":2018.15,"y":-0.08},{"s":"TCAP","x":2018.23,"y":-0.06},{"s":"TCAP","x":2018.28,"y":-0.05},{"s":"TCAP","x":2018.4,"y":-0.05},{"s":"TCAP","x":2018.55,"y":-0.10},{"s":"TCAP","x":2018.7,"y":-0.15},{"s":"TCAP","x":2018.85,"y":-0.20},{"s":"TCAP","x":2018.93,"y":-0.22},{"s":"TCAP","x":2019,"y":-0.22},{"s":"TCAP","x":2019.15,"y":-0.21},
{"s":"TCAP","x":2019.35,"y":-0.19},{"s":"TCAP","x":2019.55,"y":-0.15},{"s":"TCAP","x":2019.68,"y":-0.08},{"s":"TCAP","x":2019.78,"y":-0.30},{"s":"TCAP","x":2019.88,"y":-0.50},{"s":"TCAP","x":2019.97,"y":-0.43},{"s":"TCAP","x":2020.05,"y":-0.45},{"s":"TCAP","x":2020.12,"y":-0.80},{"s":"TCAP","x":2020.17,"y":-1.50},{"s":"TCAP","x":2020.24,"y":-1.92},
{"s":"TCAP","x":2020.4,"y":-1.93},{"s":"TCAP","x":2020.6,"y":-1.95},{"s":"TCAP","x":2020.8,"y":-1.92},{"s":"TCAP","x":2020.87,"y":-1.88},{"s":"TCAP","x":2020.91,"y":-1.35},{"s":"TCAP","x":2020.94,"y":-1.15},{"s":"TCAP","x":2020.98,"y":-1.22},{"s":"TCAP","x":2021.05,"y":-1.25},{"s":"TCAP","x":2021.2,"y":-1.12},{"s":"TCAP","x":2021.4,"y":-1.04},
{"s":"TCAP","x":2021.62,"y":-0.98},{"s":"TCAP","x":2021.68,"y":-0.45},{"s":"TCAP","x":2021.75,"y":-0.43},{"s":"TCAP","x":2021.9,"y":-0.48},{"s":"TCAP","x":2022.08,"y":-0.54},{"s":"TCAP","x":2022.25,"y":-0.52},{"s":"TCAP","x":2022.4,"y":-0.50},{"s":"TCAP","x":2022.58,"y":-0.52},{"s":"TCAP","x":2022.75,"y":-0.50},{"s":"TCAP","x":2022.88,"y":-0.38},
{"s":"TCAP","x":2023,"y":-0.28},{"s":"TCAP","x":2023.12,"y":-0.30},{"s":"TCAP","x":2023.25,"y":-0.24},{"s":"TCAP","x":2023.4,"y":-0.10},{"s":"TCAP","x":2023.55,"y":-0.15},{"s":"TCAP","x":2023.7,"y":-0.19},{"s":"TCAP","x":2023.85,"y":-0.24},{"s":"TCAP","x":2024,"y":-0.27},{"s":"TCAP","x":2024.15,"y":-0.26},{"s":"TCAP","x":2024.3,"y":-0.26},
{"s":"TCAP","x":2024.42,"y":-0.26},{"s":"TCAP","x":2024.5,"y":-0.16}
]},
"mark": {"type": "line", "strokeWidth": 2.5},
"encoding": {
  "x": {"field": "x", "type": "quantitative",
    "scale": {"domain": [2014.04, 2025.74], "nice": false, "zero": false},
    "axis": {"values": [2014.5, 2015.5, 2016, 2016.5, 2017.5, 2018, 2018.5, 2019.5, 2020, 2020.5, 2021.5, 2022, 2022.5, 2023.5, 2024, 2024.5, 2025.5],
      "labelExpr": "(datum.value % 1) > 0.25 ? format(datum.value - 2000.5, 'd') : ''",
      "title": null, "domain": false, "ticks": false, "grid": true,
      "gridColor": {"condition": {"test": "datum.value % 2 === 0", "value": "#e9e9e9"}, "value": "transparent"},
      "gridWidth": 2.5,
      "labelFont": "DejaVu Sans", "labelFontSize": 29, "labelColor": "#555555", "labelPadding": 15,
      "labelOverlap": false, "labelFlush": false}},
  "y": {"field": "y", "type": "quantitative",
    "scale": {"domain": [-2.4, 0.4], "nice": false, "zero": false},
    "axis": {"values": [-2.4, -2, -1.6, -1.2, -0.8, -0.4, 0, 0.4],
      "labelExpr": "replace(format(datum.value, '.1f'), '\u2212', '-')",
      "title": null, "domain": false, "ticks": false, "grid": true,
      "gridColor": {"condition": {"test": "datum.value === 0", "value": "#d3d3d3"}, "value": "#ececec"},
      "gridWidth": {"condition": {"test": "datum.value === 0", "value": 5}, "value": 2},
      "gridOpacity": {"condition": {"test": "datum.value > 0.3 || datum.value < -2.3", "value": 0}, "value": 1},
      "labelFont": "DejaVu Sans", "labelFontSize": 29, "labelColor": "#555555", "labelPadding": 23, "labelOffset": -3,
      "labelOverlap": false, "labelFlush": false}},
  "color": {"field": "s", "type": "nominal",
    "scale": {"domain": ["BAY","BBL","CIMBT","KBANK","KKP","KTB","LHFG","SCB","TCAP","TISCO","TTB"],
      "range": ["#4a6fb5","#e8833a","#b3c2ae","#d9a3b5","#7b817b","#9486c4","#6b2e3e","#3a7d50","#e03ce0","#8a8a8a","#d2d2d2"]},
    "legend": {"title": null, "labelExpr": "'COVARM_' + datum.label"}},
  "strokeDash": {"field": "s", "type": "nominal",
    "scale": {"domain": ["BAY","BBL","CIMBT","KBANK","KKP","KTB","LHFG","SCB","TCAP","TISCO","TTB"],
      "range": [[1,0],[1,0],[3,3],[3,3],[1,0],[1,0],[1,0],[1,0],[1,0],[1,0],[1,0]]},
    "legend": {"title": null, "labelExpr": "'COVARM_' + datum.label"}}
},
"config": {
  "view": {"stroke": null},
  "legend": {"orient": "none", "legendX": 292, "legendY": 676, "direction": "horizontal", "columns": 2,
    "columnPadding": 62, "rowPadding": 11, "padding": 18, "strokeColor": "#dedede", "fillColor": "#ffffff",
    "symbolType": "M-1,0H6.6", "symbolSize": 1089, "symbolStrokeWidth": 4,
    "labelFont": "DejaVu Sans", "labelFontSize": 33, "labelColor": "#3f3f3f", "labelOffset": 111, "labelLimit": 400}
}
}
